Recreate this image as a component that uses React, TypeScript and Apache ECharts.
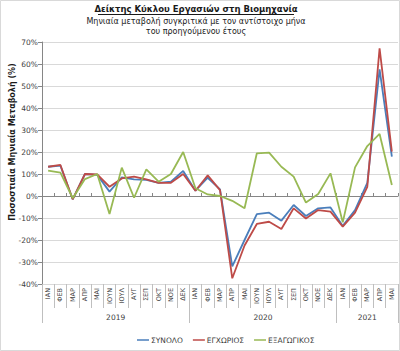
import React, { useEffect, useRef } from "react";
import * as echarts from "echarts";

const months = [
  "ΙΑΝ", "ΦΕΒ", "ΜΑΡ", "ΑΠΡ", "ΜΑΙ", "ΙΟΥΝ", "ΙΟΥΛ", "ΑΥΓ", "ΣΕΠ", "ΟΚΤ", "ΝΟΕ", "ΔΕΚ",
  "ΙΑΝ", "ΦΕΒ", "ΜΑΡ", "ΑΠΡ", "ΜΑΙ", "ΙΟΥΝ", "ΙΟΥΛ", "ΑΥΓ", "ΣΕΠ", "ΟΚΤ", "ΝΟΕ", "ΔΕΚ",
  "ΙΑΝ", "ΦΕΒ", "ΜΑΡ", "ΑΠΡ", "ΜΑΙ",
];
const years = ["2019", "2020", "2021"];
const yearCenters = [6, 18, 26.5];
const yearBounds = [0, 12, 24, 29];

const synolo = [
  13.3, 13.8, -1.5, 10, 9.6, 2, 8.5, 7.6, 7.3, 6, 6.5, 11.4,
  2.4, 8.3, 3, -32, -20, -8.2, -7.6, -11.2, -4.1, -9.1, -5.6, -5.2,
  -13.6, -6.4, 6, 57.6, 17.9,
];
const egxorios = [
  13.3, 14.1, -1.5, 10, 9.8, 4.2, 8, 8.8, 7.6, 6, 6, 10,
  2.4, 9.4, 2.7, -37.4, -22.5, -12.7, -11.7, -15, -5.6, -10.2, -6.4, -7.1,
  -13.9, -7.6, 4.2, 67.1, 20.2,
];
const exagogikos = [
  11.5, 10.6, -1, 7.7, 10, -8.2, 12.9, -0.8, 12.1, 6.5, 10, 20,
  3.5, 0.7, 0, -2.2, -5.6, 19.4, 19.7, 13.3, 8.8, -3, 0.9, 10.3,
  -12, 13, 22.7, 28.2, 5,
];
const seriesNames = ["ΣΥΝΟΛΟ", "ΕΓΧΩΡΙΟΣ", "ΕΞΑΓΩΓΙΚΟΣ"];

const FONT = "DejaVu Sans";

export default function App() {
  const ref = useRef<HTMLDivElement>(null);
  useEffect(() => {
    document.body.style.margin = "0";
    const chart = echarts.init(ref.current!, null, { renderer: "svg" });
    const gray = "#868686";
    chart.setOption({
      animation: false,
      textStyle: { fontFamily: FONT },
      color: ["#4A7EBB", "#BE4B48", "#98B954"],
      grid: { left: 42, right: 2, top: 42, bottom: 67, containLabel: false, outerBoundsMode: "none" },
      legend: {
        data: seriesNames,
        left: 132,
        top: 331,
        icon: "rect",
        itemWidth: 12,
        itemHeight: 1.5,
        itemGap: 10,
        textStyle: { fontSize: 7.5, color: "#404040", fontFamily: FONT, padding: [0, 0, 0, -3] },
      },
      graphic: [
        {
          type: "rect",
          shape: { x: 0.5, y: 0.5, width: 399, height: 350 },
          style: { fill: "none", stroke: "#D9D9D9", lineWidth: 1 },
        },
        {
          type: "text",
          x: 196,
          y: 9,
          style: {
            text: "Δείκτης Κύκλου Εργασιών στη Βιομηχανία",
            fontFamily: FONT,
            fontSize: 8.5,
            fontWeight: "bold",
            fill: "#1a1a1a",
            align: "center",
            verticalAlign: "middle",
          },
        },
        {
          type: "rect",
          shape: { x: 98, y: 14, width: 196, height: 1 },
          style: { fill: "#1a1a1a" },
          z: 10,
        },
        {
          type: "text",
          x: 196,
          y: 21,
          style: {
            text: "Μηνιαία μεταβολή συγκριτικά με τον αντίστοιχο μήνα",
            fontFamily: FONT,
            fontSize: 8,
            fill: "#1a1a1a",
            align: "center",
            verticalAlign: "middle",
          },
        },
        {
          type: "text",
          x: 196,
          y: 31,
          style: {
            text: "του προηγούμενου έτους",
            fontFamily: FONT,
            fontSize: 8,
            fill: "#1a1a1a",
            align: "center",
            verticalAlign: "middle",
          },
        },
        {
          type: "text",
          x: 12,
          y: 142,
          rotation: Math.PI / 2,
          style: {
            text: "Ποσοστιαία Μηνιαία Μεταβολή (%)",
            fontFamily: FONT,
            fontSize: 8,
            fontWeight: "bold",
            fill: "#1a1a1a",
            align: "center",
            verticalAlign: "middle",
          },
        },
      ],
      xAxis: [
        {
          type: "category",
          data: months,
          boundaryGap: true,
          position: "bottom",
          axisLine: { show: false, onZero: false },
          axisTick: { show: true, interval: 0, length: 24, lineStyle: { color: "#BFBFBF" } },
          axisLabel: { interval: 0, rotate: 90, fontSize: 6.5, color: "#404040", margin: 4, fontFamily: FONT },
          splitLine: { show: false },
        },
        {
          type: "value",
          min: 0,
          max: 29,
          position: "bottom",
          axisLine: { show: false, onZero: false },
          axisTick: { show: true, customValues: yearBounds, length: 39, lineStyle: { color: "#BFBFBF" } },
          axisLabel: {
            show: true,
            customValues: yearCenters,
            margin: 29,
            fontSize: 7.5,
            color: "#404040",
            fontFamily: FONT,
            formatter: (v: number) => {
              const i = yearCenters.indexOf(v);
              return i >= 0 ? years[i] : "";
            },
          },
          splitLine: { show: false },
        },
        {
          type: "category",
          data: months,
          boundaryGap: true,
          axisLine: { show: true, onZero: true, lineStyle: { color: gray, width: 1 } },
          axisTick: { show: true, interval: 0, length: 3, lineStyle: { color: gray } },
          axisLabel: { show: false },
          splitLine: { show: false },
        },
      ],
      yAxis: {
        type: "value",
        min: -40,
        max: 70,
        interval: 10,
        axisLine: { show: true, lineStyle: { color: gray } },
        axisTick: { show: true, length: 4, lineStyle: { color: gray } },
        axisLabel: { formatter: "{value}%", fontSize: 7.5, color: "#404040", margin: 4, fontFamily: FONT },
        splitLine: { show: true, lineStyle: { color: "#D9D9D9", width: 1 } },
      },
      series: [
        { name: seriesNames[0], type: "line", data: synolo, symbol: "none", lineStyle: { width: 1.8 }, xAxisIndex: 0 },
        { name: seriesNames[1], type: "line", data: egxorios, symbol: "none", lineStyle: { width: 1.8 }, xAxisIndex: 0 },
        { name: seriesNames[2], type: "line", data: exagogikos, symbol: "none", lineStyle: { width: 1.8 }, xAxisIndex: 0 },
      ],
    });
    return () => chart.dispose();
  }, []);
  return <div ref={ref} style={{ width: 400, height: 351 }} />;
}
